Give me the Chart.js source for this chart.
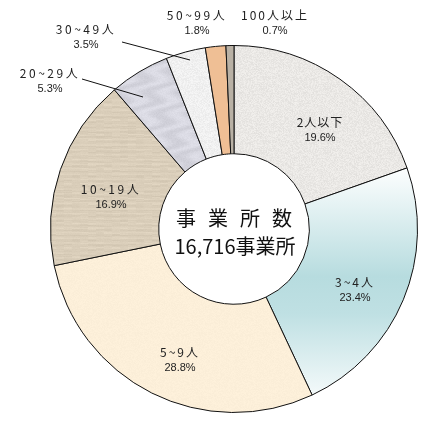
<!DOCTYPE html>
<html>
<head>
<meta charset="utf-8">
<script src="https://cdn.jsdelivr.net/npm/chart.js@4"></script>
<style>
  html, body { margin: 0; padding: 0; background: #fff; }
  #wrap { width: 432px; height: 430px; position: relative; }
</style>
</head>
<body>
<div id="wrap"><canvas id="PieSize"></canvas></div>
<script>
// 従業者規模別 事業所数の割合
const categories = ['2人以下', '3~4人', '5~9人', '10~19人', '20~29人', '30~49人', '50~99人', '100人以上']
const shares = [19.6, 23.4, 28.8, 16.9, 5.3, 3.5, 1.8, 0.7]
const centerTitle = '事業所数'
const centerTotal = '16,716事業所'

// ラベルの配置 (中心からのずれ) と引き出し線
const labelOffsets = [[86, -99], [121, 61], [-54, 131], [-123, -32], [-184, -148], [-148, -192], [-37, -206], [41, -206]]
const leaders = [null, null, null, null, [[-152, -150], [-91, -132]], [[-112, -187], [-44, -169]], null, null]
const labelSpacing = ['1px', '2px', '2px', '2.5px', '2.5px', '2.5px', '2.5px', '2px']

// テクスチャ
function hash(x, y) {
    const s = Math.sin(x * 12.9898 + y * 78.233) * 43758.5453
    return s - Math.floor(s)
}
function makePattern(r, g, b, kind, amp) {
    const c = document.createElement('canvas')
    c.width = 64; c.height = 64
    const x2 = c.getContext('2d')
    const img = x2.createImageData(64, 64)
    const k = Math.PI * 2 / 64
    for (let y = 0; y < 64; y++) {
        for (let x = 0; x < 64; x++) {
            let n = (hash(x, y) - 0.5) * amp
            if (kind === 'wood') n = n * 0.25 + (hash(Math.floor(x / 8), y) - 0.5) * amp * 0.6 + Math.sin(y * k * 13) * amp * 0.25
            if (kind === 'marble') n = n * 0.4 + Math.sin((x + y) * k * 2 + Math.sin(y * k * 3) * 2) * amp * 0.4
            const i = (y * 64 + x) * 4
            img.data[i] = r + n; img.data[i + 1] = g + n; img.data[i + 2] = b + n; img.data[i + 3] = 255
        }
    }
    x2.putImageData(img, 0, 0)
    return x2.createPattern(c, 'repeat')
}
const fills = [
    makePattern(234, 232, 229, 'speckle', 16),
    null,
    makePattern(252, 239, 217, 'speckle', 5),
    makePattern(218, 206, 186, 'wood', 16),
    makePattern(214, 214, 223, 'marble', 18),
    makePattern(240, 240, 240, 'speckle', 14),
    '#efbf95',
    '#b9b1a5'
]

function sliceFill(context) {
    const i = context.dataIndex
    if (i !== 1) return fills[i]
    const area = context.chart.chartArea
    if (!area) return '#cfe8ea'
    const g = context.chart.ctx.createLinearGradient(0, 165, 0, area.bottom)
    g.addColorStop(0, '#ffffff')
    g.addColorStop(0.45, '#b7dcdf')
    g.addColorStop(0.6, '#bfe0e3')
    g.addColorStop(1, '#ffffff')
    return g
}

const labelPlugin = {
    id: 'labelPlugin',
    afterDatasetsDraw(chart) {
        const ctx = chart.ctx
        const arcs = chart.getDatasetMeta(0).data
        const cx = arcs[0].x, cy = arcs[0].y
        ctx.save()
        ctx.fillStyle = '#222'
        ctx.textAlign = 'center'
        ctx.textBaseline = 'middle'
        for (let i = 0; i < categories.length; i++) {
            const lx = cx + labelOffsets[i][0], ly = cy + labelOffsets[i][1]
            ctx.letterSpacing = labelSpacing[i]
            ctx.font = '12px "Noto Sans CJK JP"'
            ctx.fillText(categories[i], lx, ly - 8)
            ctx.letterSpacing = '0px'
            ctx.font = '11px "Liberation Sans"'
            ctx.fillText(shares[i].toFixed(1) + '%', lx, ly + 8)
            if (leaders[i]) {
                ctx.strokeStyle = '#111'
                ctx.lineWidth = 1
                ctx.beginPath()
                ctx.moveTo(cx + leaders[i][0][0], cy + leaders[i][0][1])
                ctx.lineTo(cx + leaders[i][1][0], cy + leaders[i][1][1])
                ctx.stroke()
            }
        }
        // 中央の文字
        ctx.fillStyle = '#111'
        ctx.font = '20px "Noto Sans CJK JP"'
        ctx.letterSpacing = '12px'
        ctx.fillText(centerTitle, cx + 6, cy - 11)
        ctx.letterSpacing = '0px'
        ctx.fillText(centerTotal, cx + 1, cy + 17)
        ctx.restore()
    }
}

const config = {
    type: 'doughnut',
    data: {
        labels: categories,
        datasets: [{
            data: shares,
            backgroundColor: sliceFill,
            borderColor: '#111',
            borderWidth: 1
        }]
    },
    options: {
        responsive: true,
        maintainAspectRatio: false,
        animation: false,
        cutout: '41%',
        rotation: 0,
        layout: { padding: { left: 50, right: 14, top: 45, bottom: 17 } },
        plugins: {
            legend: { display: false },
            tooltip: { enabled: false }
        }
    },
    plugins: [labelPlugin]
}

new Chart(document.getElementById('PieSize'), config)
</script>
</body>
</html>
